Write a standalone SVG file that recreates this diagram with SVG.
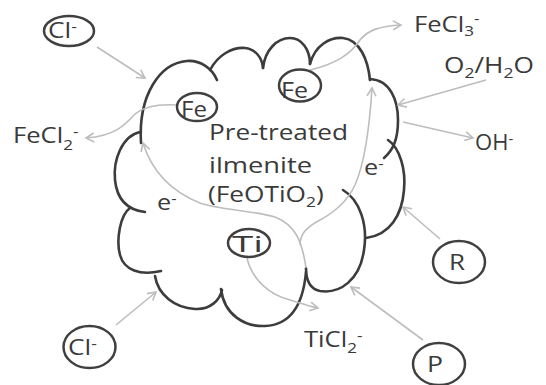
<svg xmlns="http://www.w3.org/2000/svg" width="546" height="385" viewBox="0 0 546 385">
<style>
.cloud{fill:none;stroke:#3c3c3c;stroke-width:2.6;stroke-linecap:round}
.node{fill:none;stroke:#404040;stroke-width:2.5}
.con{fill:none;stroke:#bdbdbd;stroke-width:1.6}
.t{font-family:"Open Sans","Noto Sans",sans-serif;font-size:21px;fill:#3a3a3a}
.s{font-size:14px}
</style>
<defs>
<marker id="ah" markerWidth="12" markerHeight="12" refX="10" refY="6" orient="auto" markerUnits="userSpaceOnUse">
<path d="M2,1.5 L10,6 L2,10.5" fill="none" stroke="#bdbdbd" stroke-width="1.6"/>
</marker>
</defs>
<rect width="546" height="385" fill="#ffffff"/>

<g id="cloud">
<path class="cloud" d="M141,143 C138,95 160,63 187,61 C200,60 212,68 217,80"/>
<path class="cloud" d="M210,70 C218,55 232,47 245,48 C255,49 262,57 263,68"/>
<path class="cloud" d="M263,68 C265,50 277,38 290,38 C302,38 310,50 310,64"/>
<path class="cloud" d="M310,64 C315,45 330,37 343,38 C360,40 368,60 370,80"/>
<path class="cloud" d="M370,79 C390,80 398,100 398,120 C398,140 393,150 384,158"/>
<path class="cloud" d="M388,140 C400,148 406,170 404,190 C402,215 390,235 366,238"/>
<path class="cloud" d="M343,190 C360,200 368,225 364,250 C360,280 340,294 320,291 C310,289 306,280 306,268"/>
<path class="cloud" d="M306,272 C303,305 290,325 265,326 C245,327 224,315 221,289"/>
<path class="cloud" d="M222,290 C220,300 210,310 195,309 C175,308 158,295 155,276"/>
<path class="cloud" d="M130,208 C120,215 116,240 120,255 C124,270 140,276 161,271"/>
<path class="cloud" d="M140,132 C122,136 113,160 115,180 C117,200 128,210 145,212"/>
</g>

<g id="connectors">
<path class="con" d="M177,105 C160,104 145,106 135,114 C125,125 115,136 86,138" marker-end="url(#ah)"/>
<path class="con" d="M310,70 C335,64 350,55 360,40 C368,30 380,26 401,25" marker-end="url(#ah)"/>
<path class="con" d="M97,47 L145,78" marker-end="url(#ah)"/>
<path class="con" d="M116,325 L156,292" marker-end="url(#ah)"/>
<path class="con" d="M440,239 L403,207" marker-end="url(#ah)"/>
<path class="con" d="M423,340 L351,287" marker-end="url(#ah)"/>
<path class="con" d="M486,80 L398,105" marker-end="url(#ah)"/>
<path class="con" d="M403,122 L473,138" marker-end="url(#ah)"/>
<path class="con" d="M247,258 C252,280 270,295 290,300 C300,303 308,306 318,308" marker-end="url(#ah)"/>
<path class="con" d="M306,268 C302,240 295,225 275,217 C250,210 220,210 200,203 C175,193 153,175 143,143" marker-end="url(#ah)"/>
<path class="con" d="M300,245 C300,235 305,228 320,220 C335,212 348,200 355,185 C366,160 370,120 372,88" marker-end="url(#ah)"/>
</g>

<g id="center-label">
<text class="t" x="209" y="140" textLength="139" lengthAdjust="spacingAndGlyphs">Pre-treated</text>
<text class="t" x="209" y="173" textLength="103" lengthAdjust="spacingAndGlyphs">ilmenite</text>
<text class="t" transform="translate(208,202) scale(1.25,1)">(FeOTiO<tspan class="s" dy="5">2</tspan><tspan dy="-5">)</tspan></text>
</g>

<g id="cl-top">
<ellipse class="node" cx="69" cy="31" rx="25" ry="15"/>
<text class="t" transform="translate(48,38) scale(1.25,1)">Cl<tspan class="s" dy="-6">-</tspan></text>
</g>
<g id="cl-bottom">
<ellipse class="node" cx="89.5" cy="347" rx="26" ry="21"/>
<text class="t" transform="translate(68,355) scale(1.25,1)">Cl<tspan class="s" dy="-6">-</tspan></text>
</g>
<g id="r">
<ellipse class="node" cx="459" cy="262" rx="26" ry="21"/>
<text class="t" x="449" y="270" textLength="16" lengthAdjust="spacingAndGlyphs">R</text>
</g>
<g id="p">
<ellipse class="node" cx="439" cy="364" rx="26" ry="21"/>
<text class="t" x="427" y="372" textLength="16" lengthAdjust="spacingAndGlyphs">P</text>
</g>
<g id="fe-left">
<ellipse class="node" cx="197" cy="107" rx="20" ry="14"/>
<text class="t" x="181" y="117" textLength="26" lengthAdjust="spacingAndGlyphs">Fe</text>
</g>
<g id="fe-right">
<ellipse class="node" cx="300" cy="85.5" rx="21" ry="16"/>
<text class="t" x="281" y="98" textLength="27" lengthAdjust="spacingAndGlyphs">Fe</text>
</g>
<g id="ti">
<ellipse class="node" cx="249" cy="243" rx="21" ry="14"/>
<text class="t" x="232" y="252" textLength="31" lengthAdjust="spacingAndGlyphs">Ti</text>
</g>

<g id="labels">
<text class="t" transform="translate(157,210) scale(1.2,1)">e<tspan class="s" dy="-6">-</tspan></text>
<text class="t" transform="translate(364,175) scale(1.2,1)">e<tspan class="s" dy="-6">-</tspan></text>
<text class="t" transform="translate(13,143) scale(1.22,1)">FeCl<tspan class="s" dy="7">2</tspan><tspan class="s" dy="-13">-</tspan></text>
<text class="t" transform="translate(414,32) scale(1.22,1)">FeCl<tspan class="s" dy="4">3</tspan><tspan class="s" dy="-12">-</tspan></text>
<text class="t" transform="translate(444,73) scale(1.25,1)">O<tspan class="s" dy="5">2</tspan><tspan dy="-5">/H</tspan><tspan class="s" dy="5">2</tspan><tspan dy="-5">O</tspan></text>
<text class="t" transform="translate(475,150) scale(1.05,1)">OH<tspan class="s" dy="-6">-</tspan></text>
<text class="t" transform="translate(304,347) scale(1.22,1)">TiCl<tspan class="s" dy="6">2</tspan><tspan class="s" dy="-12">-</tspan></text>
</g>
</svg>
